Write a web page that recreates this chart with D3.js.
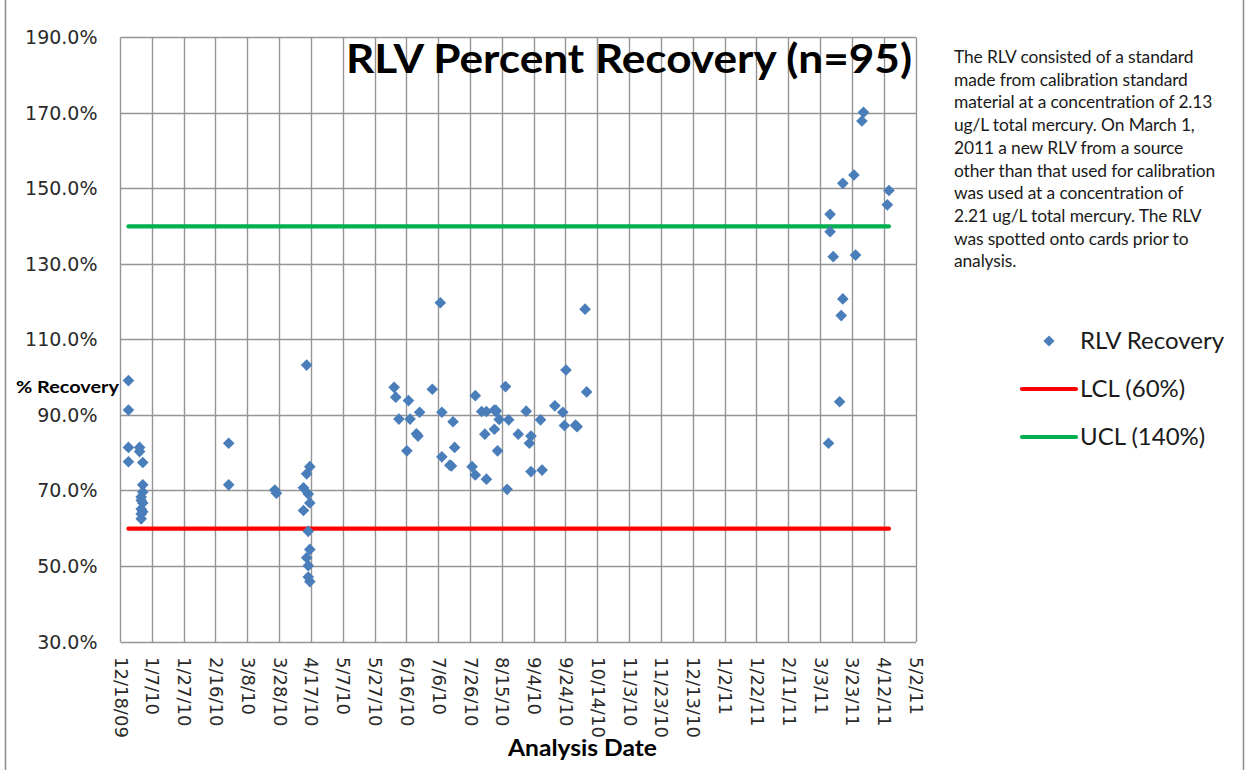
<!DOCTYPE html>
<html>
<head>
<meta charset="utf-8">
<script src="https://cdn.jsdelivr.net/npm/d3@7"></script>
<style>
  body { margin: 0; background: #fff; }
  svg { display: block; }
</style>
</head>
<body>
<div id="chart"></div>
<script>
var svgWidth = 1252;
var svgHeight = 770;

// RLV recovery results (date, percent)
var dates = [
  "2009-12-23","2009-12-23","2009-12-23","2009-12-23","2009-12-30","2009-12-30",
  "2010-01-01","2010-01-01","2010-01-01","2010-01-01","2010-01-01",
  "2009-12-31","2009-12-31","2009-12-31","2009-12-31","2009-12-31",
  "2010-02-24","2010-02-24","2010-03-25","2010-03-26",
  "2010-04-14","2010-04-14","2010-04-14","2010-04-16","2010-04-16","2010-04-16","2010-04-16",
  "2010-04-12","2010-04-12","2010-04-15","2010-04-15","2010-04-15","2010-04-15",
  "2010-06-08","2010-06-09","2010-06-17","2010-07-02","2010-06-24","2010-06-11","2010-06-18",
  "2010-07-08","2010-07-15","2010-06-22","2010-06-23","2010-06-16","2010-07-16","2010-07-08",
  "2010-07-13","2010-07-14","2010-07-07","2010-07-29","2010-08-17",
  "2010-08-02","2010-08-05","2010-08-10","2010-08-11","2010-08-11",
  "2010-08-13","2010-08-19","2010-08-10","2010-08-04","2010-08-12",
  "2010-07-27","2010-07-29","2010-08-05","2010-08-18","2010-08-30","2010-08-25",
  "2010-09-02","2010-09-01","2010-09-08","2010-09-02","2010-09-09",
  "2010-09-17","2010-09-22","2010-09-23","2010-09-30","2010-10-01","2010-09-24","2010-10-07","2010-10-06",
  "2011-03-30","2011-03-29","2011-03-24","2011-03-17","2011-04-15","2011-04-14",
  "2011-03-09","2011-03-09","2011-03-11","2011-03-25","2011-03-17","2011-03-16","2011-03-15","2011-03-08"
];
var recovery = [
  99.2, 91.4, 81.5, 77.7, 81.5, 80.4,
  77.5, 71.6, 69.7, 66.8, 64.5,
  68.4, 67.5, 65.2, 63.9, 62.6,
  82.6, 71.6, 70.2, 69.4,
  103.3, 74.5, 52.3, 76.4, 66.8, 54.5, 46.0,
  70.8, 64.8, 69.2, 59.3, 50.2, 47.2,
  97.4, 94.8, 93.9, 96.9, 90.8, 89.0, 89.0,
  90.8, 88.3, 85.1, 84.5, 80.6, 81.5, 79.0,
  76.8, 76.6, 119.8, 95.2, 97.6,
  91.0, 91.0, 91.4, 91.0, 91.3,
  88.9, 88.8, 86.3, 85.0, 80.6,
  76.4, 74.2, 73.1, 70.4, 91.1, 85.0,
  84.5, 82.6, 88.8, 75.1, 75.5,
  92.5, 90.8, 87.3, 87.4, 87.0, 102.0, 96.2, 118.1,
  170.2, 167.9, 153.6, 151.4, 149.5, 145.7,
  143.2, 138.6, 132.0, 132.4, 120.8, 116.4, 93.6, 82.6
];

// control limits
var lcl = 60;
var ucl = 140;

// axes
var xStart = "2009-12-18";
var xEnd = "2011-05-02";
var xStepDays = 20;
var yTicks = [30, 50, 70, 90, 110, 130, 150, 170, 190];

var noteLines = [
  "The RLV consisted of a standard",
  "made from calibration standard",
  "material at a concentration of 2.13",
  "ug/L total mercury. On March 1,",
  "2011  a new RLV from a source",
  "other than that used for calibration",
  "was used at a concentration  of",
  "2.21 ug/L total mercury. The RLV",
  "was spotted onto cards prior to",
  "analysis."
];

var parse = d3.utcParse("%Y-%m-%d");
var data = dates.map(function(d, i) {
  return { date: parse(d), value: recovery[i] };
});

var svg = d3.select("#chart")
  .append("svg")
  .attr("width", svgWidth)
  .attr("height", svgHeight);

// outer frame edges
svg.append("line")
  .attr("x1", 5.5).attr("x2", 5.5).attr("y1", 0).attr("y2", svgHeight)
  .attr("stroke", "#8c8c8c").attr("stroke-width", 1.5);
svg.append("line")
  .attr("x1", 1243.5).attr("x2", 1243.5).attr("y1", 0).attr("y2", svgHeight)
  .attr("stroke", "#8c8c8c").attr("stroke-width", 1.5);

var plotLeft = 120.5, plotRight = 916, plotTop = 37.5, plotBottom = 642;

var xScale = d3.scaleUtc()
  .domain([parse(xStart), parse(xEnd)])
  .range([plotLeft, plotRight]);

var yScale = d3.scaleLinear()
  .domain([30, 190])
  .range([plotBottom, plotTop]);

// a tick every 20 days from the first date
var xTickVals = d3.range(0, 501, xStepDays).map(function(n) {
  return d3.utcDay.offset(parse(xStart), n);
});

function fmtDate(d) {
  return (d.getUTCMonth() + 1) + "/" + d.getUTCDate() + "/" +
    String(d.getUTCFullYear()).slice(2);
}

function snap(v) { return Math.round(v - 0.5) + 0.5; }

// gridlines
var grid = svg.append("g").attr("class", "grid")
  .attr("stroke", "#959595").attr("stroke-width", 1.4);

grid.selectAll("line.v").data(xTickVals).enter()
  .append("line").attr("class", "v")
  .attr("x1", function(d) { return snap(xScale(d)); })
  .attr("x2", function(d) { return snap(xScale(d)); })
  .attr("y1", plotTop).attr("y2", plotBottom);

grid.selectAll("line.h").data(yTicks).enter()
  .append("line").attr("class", "h")
  .attr("x1", plotLeft).attr("x2", plotRight)
  .attr("y1", function(d) { return snap(yScale(d)); })
  .attr("y2", function(d) { return snap(yScale(d)); });

// y axis labels
var yAxis = d3.axisLeft(yScale)
  .tickValues(yTicks)
  .tickSize(0)
  .tickPadding(23)
  .tickFormat(function(d) { return d.toFixed(1) + "%"; });

svg.append("g")
  .attr("class", "yAxis")
  .attr("transform", "translate(" + plotLeft + ",0)")
  .call(yAxis)
  .call(function(g) { g.select(".domain").remove(); })
  .selectAll("text")
  .attr("font-family", "DejaVu Sans, Verdana, sans-serif")
  .attr("font-size", 19)
  .attr("fill", "#2a2a2a");

// x axis labels, rotated
var xAxis = d3.axisBottom(xScale)
  .tickValues(xTickVals)
  .tickSize(0)
  .tickFormat(fmtDate);

svg.append("g")
  .attr("class", "xAxis")
  .attr("transform", "translate(0," + plotBottom + ")")
  .call(xAxis)
  .call(function(g) { g.select(".domain").remove(); })
  .selectAll("text")
  .attr("font-family", "DejaVu Sans, Verdana, sans-serif")
  .attr("font-size", 18)
  .attr("fill", "#2a2a2a")
  .attr("text-anchor", "start")
  .attr("transform", "rotate(90)")
  .attr("x", 15)
  .attr("y", 0)
  .attr("dy", "0.36em");

// control limit lines span the data's date range
var ext = d3.extent(data, function(d) { return d.date; });
var limitLine = d3.line()
  .x(function(d) { return xScale(d.date); })
  .y(function(d) { return yScale(d.value); });

svg.append("path")
  .datum([{ date: ext[0], value: ucl }, { date: ext[1], value: ucl }])
  .attr("d", limitLine)
  .attr("stroke", "#00b050").attr("stroke-width", 4.2)
  .attr("stroke-linecap", "round").attr("fill", "none");

svg.append("path")
  .datum([{ date: ext[0], value: lcl }, { date: ext[1], value: lcl }])
  .attr("d", limitLine)
  .attr("stroke", "#ff0000").attr("stroke-width", 4.2)
  .attr("stroke-linecap", "round").attr("fill", "none");

// points
var diamond = d3.symbol().type(d3.symbolSquare).size(68);
svg.append("g").attr("class", "points")
  .selectAll("path").data(data).enter()
  .append("path")
  .attr("d", diamond)
  .attr("transform", function(d) {
    return "translate(" + xScale(d.date) + "," + yScale(d.value) + ") rotate(45)";
  })
  .attr("fill", "#4a7ebb");

// titles
svg.append("text")
  .attr("x", 912).attr("y", 73)
  .attr("text-anchor", "end")
  .attr("font-family", "Lato, Open Sans, sans-serif")
  .attr("font-weight", "bold")
  .attr("font-size", 41)
  .attr("textLength", 566)
  .attr("lengthAdjust", "spacingAndGlyphs")
  .attr("fill", "#000")
  .text("RLV Percent Recovery (n=95)");

svg.append("text")
  .attr("x", 16).attr("y", 393)
  .attr("font-family", "Lato, Open Sans, sans-serif")
  .attr("font-weight", "bold")
  .attr("font-size", 17)
  .attr("textLength", 103)
  .attr("lengthAdjust", "spacingAndGlyphs")
  .attr("fill", "#000")
  .text("% Recovery");

svg.append("text")
  .attr("x", 508).attr("y", 756)
  .attr("font-family", "Lato, Open Sans, sans-serif")
  .attr("font-weight", "bold")
  .attr("font-size", 22)
  .attr("textLength", 149)
  .attr("lengthAdjust", "spacingAndGlyphs")
  .attr("fill", "#000")
  .text("Analysis Date");

// note text
svg.append("g").attr("class", "note")
  .selectAll("text").data(noteLines).enter()
  .append("text")
  .attr("x", 954)
  .attr("y", function(d, i) { return 63 + i * 22.7; })
  .attr("font-family", "Lato, Open Sans, sans-serif")
  .attr("font-size", 17.4)
  .attr("letter-spacing", -0.12)
  .attr("fill", "#1a1a1a")
  .text(function(d) { return d; });

// legend
var legend = svg.append("g").attr("class", "legend")
  .attr("font-family", "Lato, Open Sans, sans-serif")
  .attr("font-size", 24)
  .attr("fill", "#1a1a1a");

legend.append("path")
  .attr("d", d3.symbol().type(d3.symbolSquare).size(62))
  .attr("transform", "translate(1049,341) rotate(45)")
  .attr("fill", "#4a7ebb");
legend.append("text").attr("x", 1080).attr("y", 349).text("RLV Recovery");

legend.append("line")
  .attr("x1", 1022).attr("x2", 1076).attr("y1", 389).attr("y2", 389)
  .attr("stroke", "#ff0000").attr("stroke-width", 4.2).attr("stroke-linecap", "round");
legend.append("text").attr("x", 1080).attr("y", 397).text("LCL (60%)");

legend.append("line")
  .attr("x1", 1022).attr("x2", 1076).attr("y1", 437).attr("y2", 437)
  .attr("stroke", "#00b050").attr("stroke-width", 4.2).attr("stroke-linecap", "round");
legend.append("text").attr("x", 1080).attr("y", 445).text("UCL (140%)");
</script>
</body>
</html>
